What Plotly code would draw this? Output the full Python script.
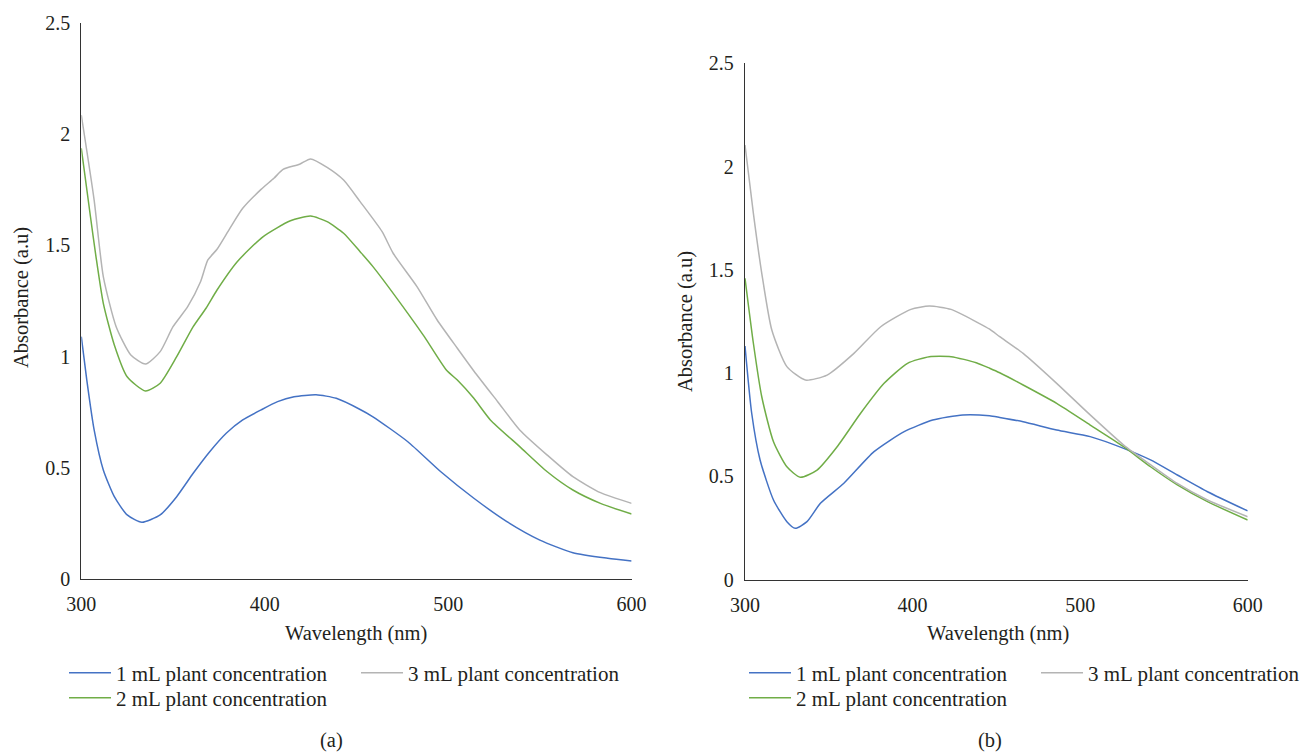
import plotly.graph_objects as go

# ---------------- data ----------------
# Panel (a)
a1_x = [300, 303, 307, 312, 318, 325, 333, 343, 352, 361, 370, 379, 388, 398, 407, 416, 428, 439, 452, 459, 478, 496, 514, 532, 550, 568, 587, 600]
a1_y = [1.089, 0.894, 0.670, 0.490, 0.370, 0.288, 0.255, 0.288, 0.370, 0.475, 0.572, 0.655, 0.715, 0.760, 0.797, 0.819, 0.828, 0.812, 0.762, 0.729, 0.617, 0.482, 0.363, 0.258, 0.175, 0.118, 0.093, 0.081]

a2_x = [300, 305, 308, 312, 318, 325, 335, 343, 352, 361, 368, 374, 385, 399, 414, 425, 434, 443, 452, 459, 478, 487, 499, 505, 514, 523, 539, 554, 568, 583, 600]
a2_y = [1.936, 1.628, 1.449, 1.239, 1.052, 0.909, 0.845, 0.880, 0.999, 1.134, 1.217, 1.299, 1.426, 1.538, 1.610, 1.631, 1.606, 1.554, 1.471, 1.404, 1.194, 1.089, 0.939, 0.894, 0.812, 0.715, 0.595, 0.482, 0.400, 0.340, 0.292]

a3_x = [300, 307, 312, 319, 327, 335, 343, 350, 358, 365, 369, 374, 381, 388, 398, 405, 410, 419, 425, 434, 443, 452, 464, 470, 483, 494, 505, 514, 527, 539, 554, 568, 583, 600]
a3_y = [2.085, 1.703, 1.359, 1.134, 1.007, 0.966, 1.022, 1.134, 1.224, 1.336, 1.434, 1.482, 1.576, 1.666, 1.751, 1.801, 1.841, 1.864, 1.888, 1.850, 1.793, 1.696, 1.561, 1.464, 1.314, 1.164, 1.037, 0.935, 0.797, 0.670, 0.557, 0.460, 0.388, 0.340]

# Panel (b)
b1_x = [300, 304, 309, 317, 325, 330, 337, 345, 359, 377, 395, 412, 430, 446, 452, 466, 486, 506, 526, 542, 558, 576, 600]
b1_y = [1.131, 0.805, 0.579, 0.385, 0.280, 0.248, 0.280, 0.369, 0.466, 0.619, 0.716, 0.772, 0.797, 0.793, 0.785, 0.764, 0.724, 0.692, 0.635, 0.579, 0.506, 0.425, 0.332]

b2_x = [300, 305, 310, 317, 325, 333, 343, 355, 369, 383, 397, 410, 423, 438, 446, 452, 466, 486, 506, 526, 542, 558, 576, 600]
b2_y = [1.459, 1.144, 0.885, 0.667, 0.546, 0.495, 0.530, 0.643, 0.805, 0.950, 1.047, 1.079, 1.079, 1.050, 1.023, 1.001, 0.942, 0.853, 0.748, 0.643, 0.546, 0.458, 0.377, 0.288]

b3_x = [300, 305, 310, 316, 325, 336, 349, 365, 381, 399, 410, 423, 438, 446, 452, 466, 486, 506, 526, 542, 558, 576, 600]
b3_y = [2.104, 1.773, 1.483, 1.208, 1.031, 0.966, 0.990, 1.095, 1.224, 1.308, 1.324, 1.308, 1.248, 1.212, 1.176, 1.095, 0.950, 0.797, 0.651, 0.556, 0.465, 0.385, 0.304]

names = ["1 mL plant concentration", "2 mL plant concentration", "3 mL plant concentration"]
colors = ["#4472C4", "#70AD47", "#B4B4B4"]
x_ticks = [300, 400, 500, 600]
y_ticks = [0, 0.5, 1, 1.5, 2, 2.5]
x_title = "Wavelength (nm)"
y_title = "Absorbance (a.u)"
panel_labels = ["(a)", "(b)"]

# ---------------- layout helpers ----------------
W, H = 1313, 752
FONT = "Liberation Serif"
TXT = "#231f20"

def px(x):
    return x / W

def py(y):
    return 1 - y / H

fig = go.Figure()

panels = [
    (a1_x, a1_y, a2_x, a2_y, a3_x, a3_y, "x", "y", ["legend", "legend2", "legend"]),
    (b1_x, b1_y, b2_x, b2_y, b3_x, b3_y, "x2", "y2", ["legend3", "legend4", "legend3"]),
]
for (x1, y1, x2, y2, x3, y3, xa, ya, legs) in panels:
    for i, (xx, yy) in enumerate([(x1, y1), (x2, y2), (x3, y3)]):
        fig.add_trace(go.Scatter(
            x=xx, y=yy, mode="lines", name=names[i],
            line=dict(color=colors[i], width=1.5, shape="spline", smoothing=0.6),
            xaxis=xa, yaxis=ya, legend=legs[i], showlegend=True,
        ))

axis_common = dict(showgrid=False, zeroline=False, showline=True, linecolor="#333333",
                   linewidth=1.3, ticks="", automargin=False,
                   tickfont=dict(family=FONT, size=20, color=TXT))

fig.update_layout(
    template="none",
    width=W, height=H,
    margin=dict(l=0, r=0, t=0, b=0, autoexpand=False),
    paper_bgcolor="white", plot_bgcolor="white",
    font=dict(family=FONT, color=TXT),
    xaxis=dict(domain=[px(81.3), px(631.6)], range=[300, 600], tickvals=x_ticks,
               anchor="y", ticklabelstandoff=7, **axis_common),
    yaxis=dict(domain=[py(579), py(22.75)], range=[0, 2.5], tickvals=y_ticks,
               anchor="x", ticklabelstandoff=6, **axis_common),
    xaxis2=dict(domain=[px(745), px(1247.7)], range=[300, 600], tickvals=x_ticks,
                anchor="y2", ticklabelstandoff=7, **axis_common),
    yaxis2=dict(domain=[py(579.5), py(63.25)], range=[0, 2.5], tickvals=y_ticks,
                anchor="x2", ticklabelstandoff=6, **axis_common),
    showlegend=True,
)

leg_common = dict(orientation="h", xanchor="left", yanchor="middle", bgcolor="rgba(0,0,0,0)",
                  font=dict(family=FONT, size=21, color=TXT), itemwidth=42,
                  entrywidth=235, entrywidthmode="pixels", traceorder="normal",
                  itemclick=False, itemdoubleclick=False)
fig.update_layout(
    legend=dict(x=px(64), y=py(673), **leg_common),
    legend2=dict(x=px(64), y=py(698), **leg_common),
    legend3=dict(x=px(744), y=py(673), **leg_common),
    legend4=dict(x=px(744), y=py(698), **leg_common),
)

annotations = [
    dict(x=px(356), y=py(633), text=x_title),
    dict(x=px(998), y=py(633), text=x_title),
    dict(x=px(22), y=py(298), text=y_title, textangle=-90),
    dict(x=px(685), y=py(322), text=y_title, textangle=-90),
    dict(x=px(331), y=py(740), text=panel_labels[0]),
    dict(x=px(990), y=py(740), text=panel_labels[1]),
]
for an in annotations:
    fig.add_annotation(xref="paper", yref="paper", showarrow=False, xanchor="center", yanchor="middle",
                       font=dict(family=FONT, size=20.5, color=TXT), **an)

fig.write_html("out.html")
